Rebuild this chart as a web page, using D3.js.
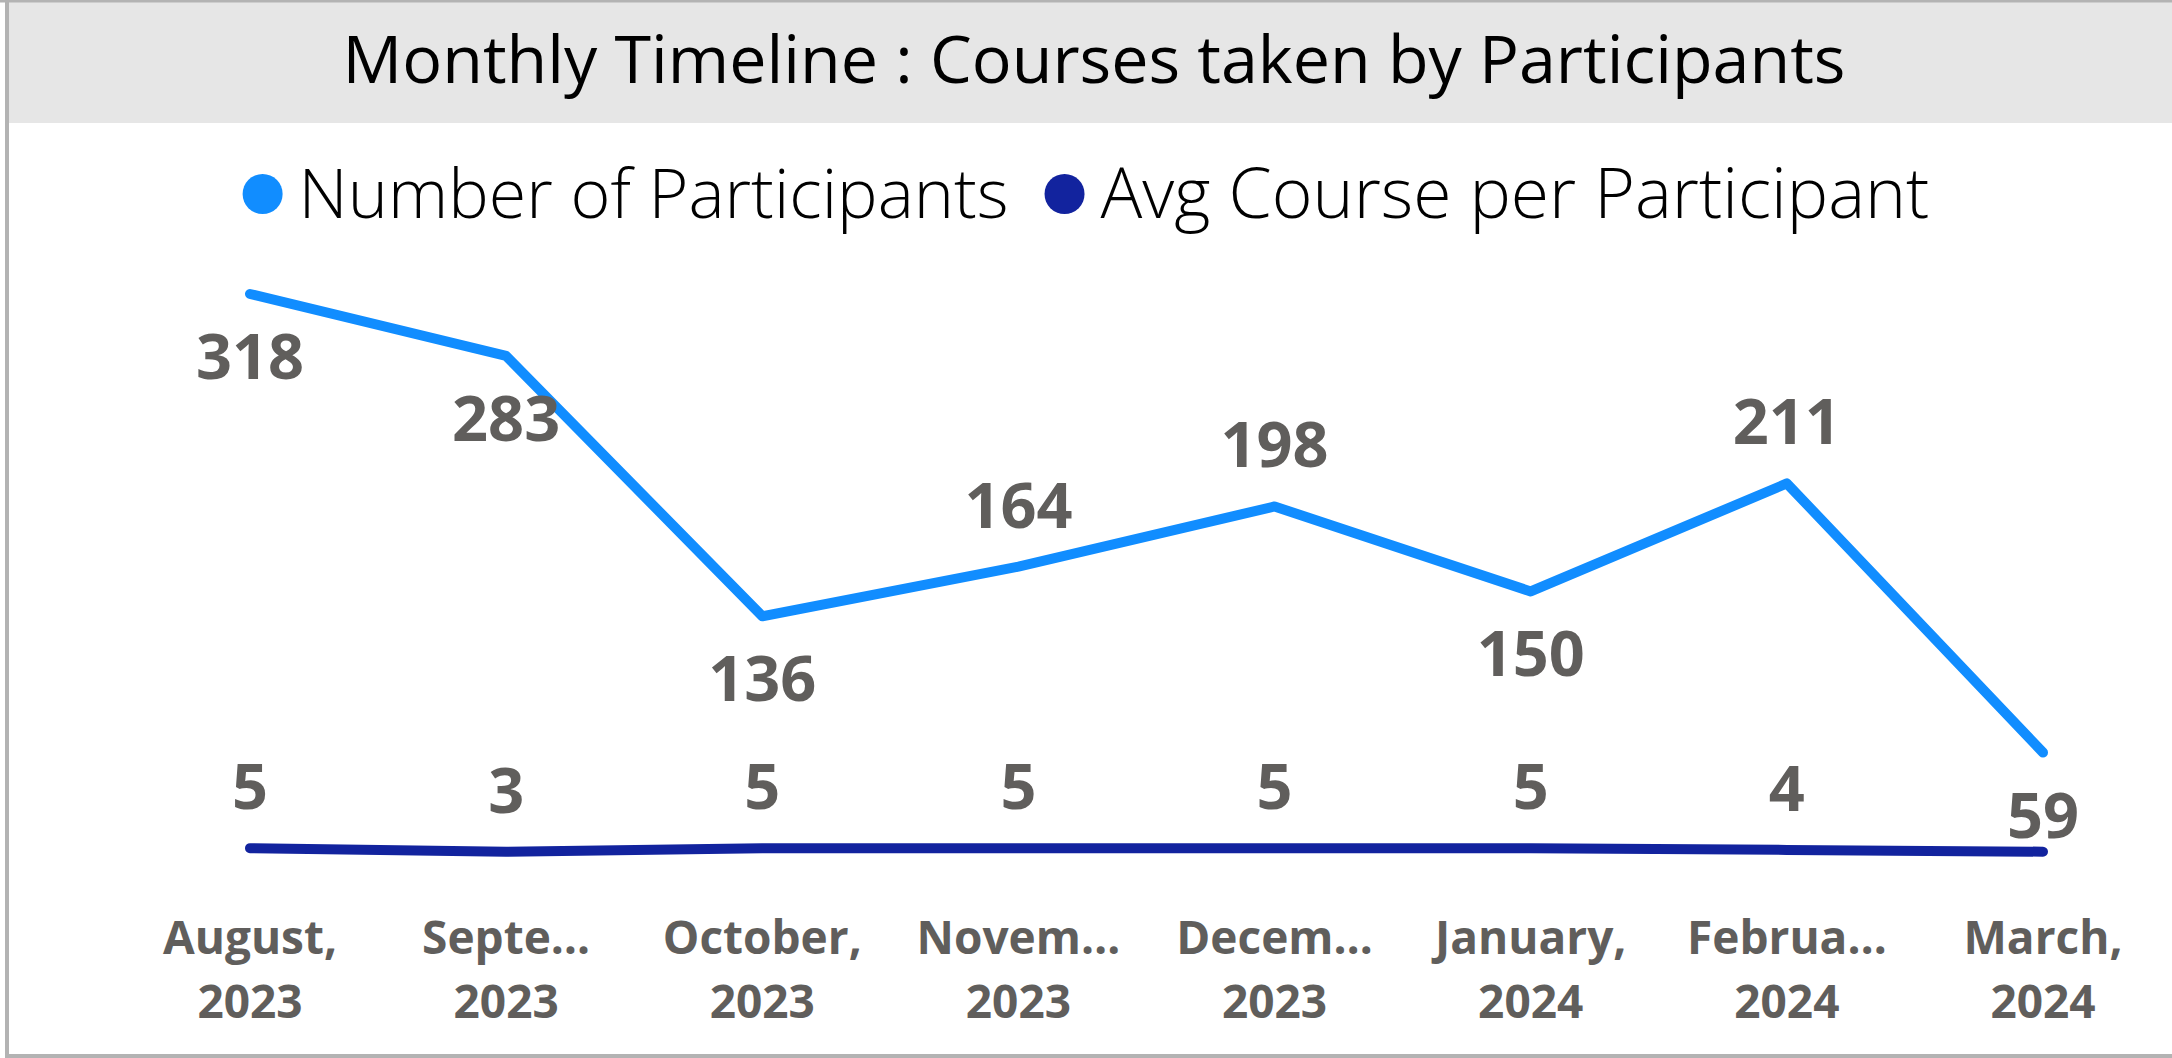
<!DOCTYPE html>
<html><head><meta charset="utf-8">
<script src="https://cdn.jsdelivr.net/npm/d3@7"></script>
<style>html,body{margin:0;padding:0;background:#fff;overflow:hidden}svg{display:block}</style>
</head><body>
<svg id="chart" width="2172" height="1058"></svg>
<script>
// ---------- data ----------
const months = ["August, 2023","September, 2023","October, 2023","November, 2023","December, 2023","January, 2024","February, 2024","March, 2024"];
const tickLine1 = ["August,","Septe…","October,","Novem…","Decem…","January,","Februa…","March,"];
const tickLine2 = ["2023","2023","2023","2023","2023","2024","2024","2024"];
const participants = [318,283,136,164,198,150,211,59];
const avgCourses = [5,3,5,5,5,5,4,3];
const seriesNames = ["Number of Participants","Avg Course per Participant"];
const seriesColors = ["#118DFF","#12239E"];
const titleText = "Monthly Timeline : Courses taken by Participants";

// ---------- layout ----------
const W = 2172, H = 1058;
const FONT = "'Open Sans','Noto Sans','DejaVu Sans',sans-serif";
const labelColor = "#605E5C";
const svg = d3.select("#chart");

svg.append("rect").attr("x",0).attr("y",0).attr("width",W).attr("height",H).attr("fill","#fff");
// title band
svg.append("rect").attr("x",9).attr("y",2).attr("width",W-9).attr("height",121).attr("fill","#E6E6E6");
// border
svg.append("rect").attr("x",0).attr("y",0).attr("width",W).attr("height",2.5).attr("fill","#B3B3B3");
svg.append("rect").attr("x",5).attr("y",0).attr("width",4).attr("height",H).attr("fill","#B3B3B3");
svg.append("rect").attr("x",5).attr("y",H-4).attr("width",W-5).attr("height",4).attr("fill","#B3B3B3");

function fitText(sel, target){
  const w = sel.node().getComputedTextLength();
  const fs = parseFloat(sel.attr("font-size"));
  sel.attr("font-size", fs*target/w);
}

// title
const title = svg.append("text").attr("x",1094).attr("y",83)
  .attr("text-anchor","middle").attr("font-family",FONT).attr("font-weight",400)
  .attr("font-size",76).attr("fill","#000").text(titleText);
fitText(title,1503);

// legend
const legendTargets = [710, 829];
const legend = svg.append("g");
let lx = 0;
const items = [];
seriesNames.forEach((name,i)=>{
  const g = legend.append("g");
  g.append("circle").attr("cx",20).attr("cy",194).attr("r",20).attr("fill",seriesColors[i]);
  const t = g.append("text").attr("x",56).attr("y",218).attr("font-family",FONT)
    .attr("font-weight",300).attr("font-size",72).attr("fill","#000").text(name);
  fitText(t, legendTargets[i]);
  items.push({g, w: 56 + t.node().getComputedTextLength()});
});
const gapL = 36;
const totalL = d3.sum(items, d=>d.w) + gapL*(items.length-1);
lx = (W - totalL)/2;
items.forEach(it=>{ it.g.attr("transform",`translate(${lx},0)`); lx += it.w + gapL; });

// scales
const x = d3.scalePoint().domain(months).range([250, 2043]);
const y = d3.scaleLinear().domain([0, 318]).range([857, 294]);

// x axis labels
const xAxis = svg.append("g").attr("font-family",FONT).attr("font-weight",700)
  .attr("font-size",46).attr("fill",labelColor).attr("text-anchor","middle");
months.forEach((m,i)=>{
  xAxis.append("text").attr("x",x(m)).attr("y",954).text(tickLine1[i]);
  xAxis.append("text").attr("x",x(m)).attr("y",1018).text(tickLine2[i]);
});

// lines
const line = d3.line().x((d,i)=>x(months[i])).y(d=>y(d));
[participants, avgCourses].forEach((vals,k)=>{
  svg.append("path").datum(vals).attr("d",line).attr("fill","none")
    .attr("stroke",seriesColors[k]).attr("stroke-width",10)
    .attr("stroke-linecap","round").attr("stroke-linejoin","round");
});

// data labels
const lblG = svg.append("g").attr("font-family",FONT).attr("font-weight",700)
  .attr("font-size",63).attr("fill",labelColor).attr("text-anchor","middle");
const boxes = [];
participants.forEach((v,i)=>{
  const above = i>0 && v > participants[i-1];
  const py = y(v);
  const t = lblG.append("text").attr("x",x(months[i])).attr("y", above ? py-39 : py+85).text(v);
  boxes.push(t.node().getBBox());
});
avgCourses.forEach((v,i)=>{
  const py = y(v);
  const t = lblG.append("text").attr("x",x(months[i])).attr("y", py-39).text(v);
  const b = t.node().getBBox();
  const hit = boxes.some(o => b.x < o.x+o.width && b.x+b.width > o.x && b.y < o.y+o.height && b.y+b.height > o.y);
  if(hit) t.remove(); else boxes.push(b);
});
</script>
</body></html>
